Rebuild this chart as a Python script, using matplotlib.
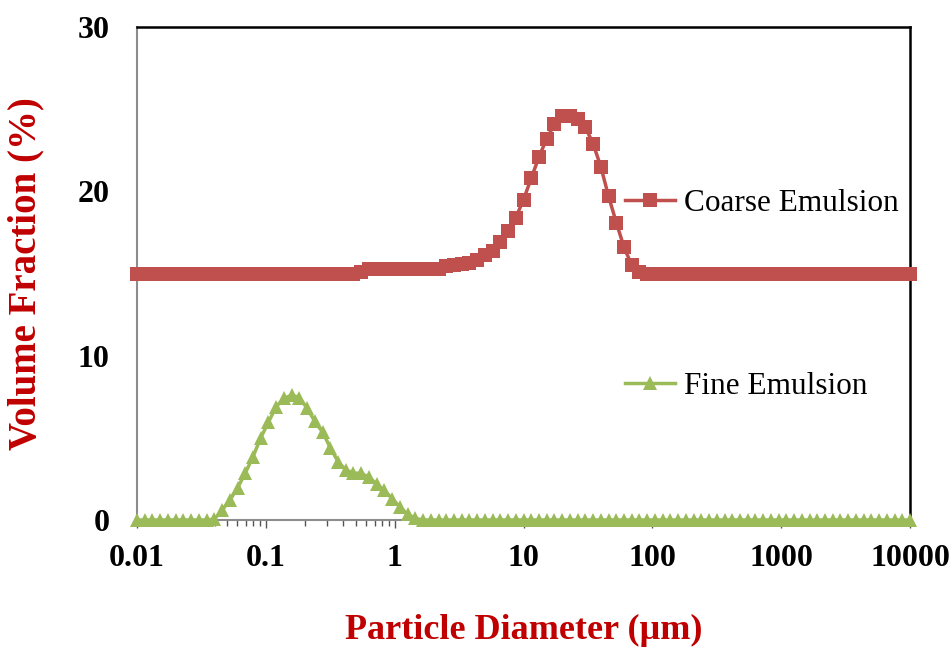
import matplotlib
matplotlib.use("Agg")
import matplotlib.pyplot as plt
from matplotlib.lines import Line2D
from matplotlib.ticker import FixedLocator, LogLocator, NullFormatter

# size classes (um), laser diffraction bins
diameter_um = [
    0.01, 0.01148, 0.01318, 0.01514, 0.01738, 0.01995, 0.02291, 0.0263, 0.0302, 0.03467,
    0.03981, 0.04571, 0.05248, 0.06026, 0.06918, 0.07943, 0.0912, 0.1047, 0.1202, 0.138,
    0.1585, 0.182, 0.2089, 0.2399, 0.2754, 0.3162, 0.3631, 0.4169, 0.4786, 0.5495,
    0.631, 0.7244, 0.8318, 0.955, 1.096, 1.259, 1.445, 1.66, 1.905, 2.188,
    2.512, 2.884, 3.311, 3.802, 4.365, 5.012, 5.754, 6.607, 7.586, 8.71,
    10.0, 11.48, 13.18, 15.14, 17.38, 19.95, 22.91, 26.3, 30.2, 34.67,
    39.81, 45.71, 52.48, 60.26, 69.18, 79.43, 91.2, 104.7, 120.2, 138.0,
    158.5, 182.0, 208.9, 239.9, 275.4, 316.2, 363.1, 416.9, 478.6, 549.5,
    631.0, 724.4, 831.8, 955.0, 1096, 1259, 1445, 1660, 1905, 2188,
    2512, 2884, 3311, 3802, 4365, 5012, 5754, 6607, 7586, 8710,
    10000,
]

coarse_pct = [
    15.0, 15.0, 15.0, 15.0, 15.0, 15.0, 15.0, 15.0, 15.0, 15.0,
    15.0, 15.0, 15.0, 15.0, 15.0, 15.0, 15.0, 15.0, 15.0, 15.0,
    15.0, 15.0, 15.0, 15.0, 15.0, 15.0, 15.0, 15.0, 15.0, 15.1,
    15.3, 15.3, 15.3, 15.3, 15.3, 15.3, 15.3, 15.3, 15.3, 15.3,
    15.45, 15.5, 15.55, 15.65, 15.85, 16.1, 16.4, 16.9, 17.6, 18.4,
    19.5, 20.8, 22.1, 23.2, 24.1, 24.6, 24.6, 24.4, 23.9, 22.9,
    21.5, 19.7, 18.1, 16.6, 15.5, 15.1, 15.0, 15.0, 15.0, 15.0,
    15.0, 15.0, 15.0, 15.0, 15.0, 15.0, 15.0, 15.0, 15.0, 15.0,
    15.0, 15.0, 15.0, 15.0, 15.0, 15.0, 15.0, 15.0, 15.0, 15.0,
    15.0, 15.0, 15.0, 15.0, 15.0, 15.0, 15.0, 15.0, 15.0, 15.0,
    15.0,
]

fine_pct = [
    0.0, 0.0, 0.0, 0.0, 0.0, 0.0, 0.0, 0.0, 0.0, 0.0,
    0.05, 0.6, 1.2, 1.95, 2.85, 3.85, 5.0, 5.95, 6.9, 7.4,
    7.6, 7.45, 6.8, 6.0, 5.35, 4.4, 3.55, 3.05, 2.85, 2.85,
    2.6, 2.2, 1.8, 1.3, 0.8, 0.35, 0.1, 0.0, 0.0, 0.0,
    0.0, 0.0, 0.0, 0.0, 0.0, 0.0, 0.0, 0.0, 0.0, 0.0,
    0.0, 0.0, 0.0, 0.0, 0.0, 0.0, 0.0, 0.0, 0.0, 0.0,
    0.0, 0.0, 0.0, 0.0, 0.0, 0.0, 0.0, 0.0, 0.0, 0.0,
    0.0, 0.0, 0.0, 0.0, 0.0, 0.0, 0.0, 0.0, 0.0, 0.0,
    0.0, 0.0, 0.0, 0.0, 0.0, 0.0, 0.0, 0.0, 0.0, 0.0,
    0.0, 0.0, 0.0, 0.0, 0.0, 0.0, 0.0, 0.0, 0.0, 0.0,
    0.0,
]

x_ticks = [0.01, 0.1, 1, 10, 100, 1000, 10000]
x_tick_labels = ["0.01", "0.1", "1", "10", "100", "1000", "10000"]
y_ticks = [0, 10, 20, 30]

COARSE = "#C0504D"
FINE = "#9BBB59"
LABEL_RED = "#C00000"

plt.rcParams["font.family"] = ["Liberation Serif", "DejaVu Serif"]

fig = plt.figure(figsize=(9.53, 6.48), dpi=100)
ax = fig.add_axes([0.1438, 0.1975, 0.8111, 0.7608])

coarse_line, = ax.plot(diameter_um, coarse_pct, color=COARSE, lw=2.5, marker="s",
                       markersize=10.5, markeredgewidth=0, clip_on=False, zorder=3,
                       label="Coarse Emulsion")
fine_line, = ax.plot(diameter_um, fine_pct, color=FINE, lw=2.5, marker="^",
                     markersize=10.5, markeredgewidth=0, clip_on=False, zorder=3,
                     label="Fine Emulsion")

ax.set_xscale("log")
ax.set_xlim(0.01, 10000)
ax.set_ylim(0, 30)
ax.xaxis.set_major_locator(FixedLocator(x_ticks))
ax.set_xticklabels(x_tick_labels)
ax.xaxis.set_minor_locator(LogLocator(base=10, subs=range(2, 10), numticks=20))
ax.xaxis.set_minor_formatter(NullFormatter())
ax.set_yticks(y_ticks)

ax.tick_params(axis="x", which="major", direction="out", length=6, width=1,
               color="#555555", pad=11, labelsize=23)
ax.tick_params(axis="x", which="minor", direction="out", length=4, width=1,
               color="#555555")
ax.tick_params(axis="y", length=0, pad=20, labelsize=23)
for lab in ax.get_xticklabels() + ax.get_yticklabels():
    lab.set_fontweight("bold")

for side in ("left", "bottom"):
    ax.spines[side].set_color("#8c8c8c")
    ax.spines[side].set_linewidth(1.5)
for side in ("top", "right"):
    ax.spines[side].set_color("black")
    ax.spines[side].set_linewidth(1.8)

ax.set_xlabel("Particle Diameter (µm)", fontsize=26, fontweight="bold",
              color=LABEL_RED, labelpad=30)
ax.set_ylabel("Volume Fraction (%)", fontsize=28, fontweight="bold",
              color=LABEL_RED, labelpad=24)

leg_kw = dict(loc="center left", frameon=False, fontsize=22.5, numpoints=1,
              handlelength=1.6, handletextpad=0.3, borderpad=0, borderaxespad=0)
h_coarse = Line2D([], [], color=COARSE, lw=2.5, marker="s", markersize=10,
                  markeredgewidth=0)
h_fine = Line2D([], [], color=FINE, lw=2.5, marker="^", markersize=10,
                markeredgewidth=0)
leg1 = ax.legend([h_coarse], ["Coarse Emulsion"], bbox_to_anchor=(0.631, 0.643), **leg_kw)
ax.add_artist(leg1)
ax.legend([h_fine], ["Fine Emulsion"], bbox_to_anchor=(0.631, 0.270), **leg_kw)

fig.savefig("out.png", dpi=100)
